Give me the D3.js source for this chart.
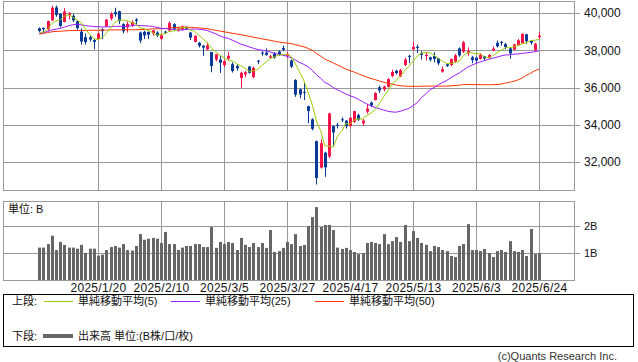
<!DOCTYPE html>
<html>
<head>
<meta charset="utf-8">
<script src="https://cdn.jsdelivr.net/npm/d3@7"></script>
<style>
  body { margin: 0; background: #fff; }
  svg { display: block; }
  text { font-family: "Liberation Sans", "Noto Sans CJK JP", sans-serif; }
</style>
</head>
<body>
<div id="chart"></div>
<script>
// trading days, 2024/12/24 .. 2025/6/24
const dates = [
  "2024/12/24","2024/12/25","2024/12/26","2024/12/27","2024/12/30",
  "2025/1/6","2025/1/7","2025/1/8","2025/1/9","2025/1/10","2025/1/14","2025/1/15","2025/1/16","2025/1/17",
  "2025/1/20","2025/1/21","2025/1/22","2025/1/23","2025/1/24","2025/1/27","2025/1/28","2025/1/29","2025/1/30","2025/1/31",
  "2025/2/3","2025/2/4","2025/2/5","2025/2/6","2025/2/7","2025/2/10","2025/2/12","2025/2/13","2025/2/14","2025/2/17",
  "2025/2/18","2025/2/19","2025/2/20","2025/2/21","2025/2/25","2025/2/26","2025/2/27","2025/2/28",
  "2025/3/3","2025/3/4","2025/3/5","2025/3/6","2025/3/7","2025/3/10","2025/3/11","2025/3/12","2025/3/13","2025/3/14",
  "2025/3/17","2025/3/18","2025/3/19","2025/3/21","2025/3/24","2025/3/25","2025/3/26","2025/3/27","2025/3/28","2025/3/31",
  "2025/4/1","2025/4/2","2025/4/3","2025/4/4","2025/4/7","2025/4/8","2025/4/9","2025/4/10","2025/4/11","2025/4/14",
  "2025/4/15","2025/4/16","2025/4/17","2025/4/18","2025/4/21","2025/4/22","2025/4/23","2025/4/24","2025/4/25","2025/4/28","2025/4/30",
  "2025/5/1","2025/5/2","2025/5/7","2025/5/8","2025/5/9","2025/5/12","2025/5/13","2025/5/14","2025/5/15","2025/5/16",
  "2025/5/19","2025/5/20","2025/5/21","2025/5/22","2025/5/23","2025/5/26","2025/5/27","2025/5/28","2025/5/29","2025/5/30",
  "2025/6/2","2025/6/3","2025/6/4","2025/6/5","2025/6/6","2025/6/9","2025/6/10","2025/6/11","2025/6/12","2025/6/13",
  "2025/6/16","2025/6/17","2025/6/18","2025/6/19","2025/6/20","2025/6/23","2025/6/24"
];

const openPrice = [
  39180,39200,39130,39600,40300, 39950,39520,39880,39850,39560,
  39000,38700,38700,38550,38620, 39120,39300,39700,40050,40100,
  39400,39230,39330,39650,38950, 38990,38990,38900,38950,38610,
  39000,39060,39400,39060,39100, 39230,38950,38450,38400,38250,
  38050,37900,37500,37500,37200, 37550,37250,37150,36510,36700,
  37130,36560,37440,37880,37870, 37600,37820,37935,38120,37700,
  37450,36400,35900,35760,35000, 34290,33120,31700,32500,32300,
  33930,34000,34290,34220,33930, 34160,34520,34080,34700,35190,
  35330,36010,35900,36040,36620, 36900,36600,37210,37700,38050,
  38190,37840,37690,37620,37690, 37570,36850,37250,37210,37390,
  38100,37920,37840,37620,37600, 37530,37680,37600,37980,38400,
  38450,38330,38100,38030,38280, 38370,38860,38500,38013,38700
];
const highPrice = [
  39220,39230,39590,40390,40400, 39990,40260,40050,39950,39580,
  39180,38900,38800,38600,38940, 39180,39680,40050,40280,40120,
  39450,39550,39600,39720,39000, 39050,39000,39100,39020,38900,
  39050,39550,39450,39250,39330, 39300,38990,38800,38450,38260,
  38420,37920,37800,37700,37500, 37900,37350,37250,36850,36900,
  37150,37130,37480,37950,38100, 37750,37900,38000,38250,37900,
  37500,36450,35950,36250,35020, 34350,33150,33220,32550,34650,
  33950,34100,34400,34250,34400, 34750,34600,34300,35120,35250,
  35750,36100,36100,36500,36950, 36950,37000,37600,37750,38460,
  38300,37950,37900,37650,37900, 37600,37120,37300,37550,37800,
  38150,38500,38150,37700,37650, 37850,37700,37800,38200,38520,
  38500,38400,38150,38350,38600, 38900,38880,38550,38400,38990
];
const lowPrice = [
  38970,38990,39040,39590,39800, 39220,39500,39650,39520,39100,
  38300,38300,38470,38050,38580, 38600,39250,39600,39800,39400,
  38900,38950,39250,39400,38380, 38600,38600,38780,38700,38550,
  38870,38980,39030,39000,39050, 39100,38550,38420,38150,37700,
  38000,36820,37400,36780,37100, 37450,36800,36900,35990,36550,
  36750,36500,37250,37700,37700, 37550,37550,37700,37950,37600,
  37050,35500,35420,35330,34080, 33700,30790,31650,31200,32200,
  32820,33800,34150,33800,33850, 34100,34200,33950,34600,34950,
  35300,35700,35800,36000,36550, 36700,36550,37150,37300,38000,
  37850,37500,37450,37400,37350, 37200,36800,37100,37150,37350,
  37650,37850,37700,37300,37300, 37500,37450,37550,37950,38150,
  38250,38050,37550,38000,38250, 38350,38350,38300,37920,38600
];
const closePrice = [
  39036,39130,39568,40281,39894, 39307,40083,39981,39605,39190,
  38474,38444,38572,38451,38902, 39027,39646,39958,39931,39565,
  39016,39414,39513,39572,38520, 38798,38831,39066,38787,38801,
  38963,39461,39149,39174,39270, 39164,38678,38776,38237,38142,
  38256,37155,37785,37331,37418, 37704,36887,37028,36793,36819,
  36790,37053,37396,37845,37751, 37677,37608,37780,38027,37799,
  37120,35617,35624,35725,34735, 33780,31136,33012,31714,34609,
  33585,33982,34267,33920,34377, 34730,34279,34220,34868,35039,
  35705,35839,36045,36452,36830, 36779,36928,37503,37644,38183,
  38128,37755,37753,37498,37529, 37298,36985,37160,37531,37724,
  37722,38432,37965,37470,37446, 37747,37554,37741,38088,38211,
  38421,38173,37834,38311,38536, 38885,38488,38403,38354,38790
];
// volume, billions of shares
const volume = [
  1.20,1.20,1.33,1.64,1.11, 1.41,1.30,1.20,1.20,1.16,
  1.30,1.00,1.16,1.16,0.90, 0.94,1.11,1.22,1.26,1.20,
  1.33,1.11,1.09,1.26,1.70, 1.49,1.53,1.56,1.53,1.37,
  1.78,1.33,1.33,1.11,1.20, 1.26,1.26,1.33,1.33,1.22,
  1.22,1.96,1.19,1.41,1.33, 1.41,1.37,1.11,1.56,1.30,
  1.22,1.37,1.22,1.37,1.19, 1.85,1.04,1.07,1.19,1.41,
  1.33,1.70,1.26,1.30,2.00, 2.33,2.70,1.96,2.04,2.04,
  1.85,1.20,1.15,1.19,1.11, 1.04,0.96,1.00,1.37,1.41,
  1.37,1.33,1.70,1.33,1.44, 1.59,1.41,2.04,1.44,1.81,
  1.56,1.37,1.30,1.07,1.26, 1.22,1.11,1.07,0.89,0.85,
  1.26,1.33,2.07,1.11,1.11, 1.07,1.15,1.00,0.85,1.07,
  1.11,1.04,1.44,1.07,1.04, 1.11,0.89,1.89,0.96,1.00
];
// simple moving averages as plotted
const ma5 = [
  38958,38968,39119,39435,39582, 39636,39827,39909,39774,39633,
  39467,39139,38857,38626,38569, 38679,38920,39197,39493,39625,
  39623,39577,39488,39416,39207, 39163,39047,38957,38800,38857,
  38890,39016,39032,39110,39203, 39244,39087,39012,38825,38599,
  38418,38113,37915,37734,37589, 37479,37425,37274,37166,37046,
  36863,36897,36970,37181,37367, 37544,37655,37732,37769,37778,
  37667,37269,36837,36377,35764, 35096,34200,33678,32875,32850,
  32811,33380,33631,34073,34026, 34255,34315,34305,34495,34627,
  34822,35134,35499,35816,36174, 36389,36607,36898,37137,37407,
  37677,37843,37893,37863,37733, 37567,37413,37294,37301,37340,
  37424,37714,37875,37863,37807, 37812,37636,37592,37715,37868,
  38003,38127,38145,38190,38255, 38348,38411,38525,38533,38584
];
const ma25 = [
  38917,38948,39010,39090,39134, 39169,39247,39312,39368,39395,
  39364,39331,39298,39272,39262, 39249,39259,39264,39282,39287,
  39273,39286,39314,39349,39323, 39314,39302,39282,39222,39178,
  39164,39140,39106,39089,39092, 39120,39129,39137,39129,39098,
  39068,38968,38881,38777,38691, 38639,38538,38438,38327,38259,
  38179,38108,38041,38003,37961, 37910,37835,37781,37735,37676,
  37594,37472,37346,37245,37109, 36930,36689,36498,36274,36161,
  35996,35880,35770,35655,35557, 35475,35364,35237,35118,35009,
  34930,34860,34790,34727,34688, 34675,34727,34802,34879,35017,
  35191,35456,35645,35877,35994, 36142,36262,36378,36522,36656,
  36776,36942,37092,37196,37292, 37374,37442,37510,37576,37631,
  37697,37746,37760,37786,37801, 37831,37860,37886,37920,37971
];
const ma50 = [
  38870,38900,38950,38990,39010, 39020,39040,39050,39060,39060,
  39060,39060,39070,39070,39070, 39080,39080,39090,39090,39090,
  39100,39100,39100,39102,39108, 39115,39125,39146,39156,39156,
  39167,39193,39209,39229,39244, 39242,39230,39218,39201,39180,
  39158,39114,39072,39030,38989, 38956,38912,38876,38838,38791,
  38746,38705,38661,38612,38570, 38537,38487,38443,38412,38384,
  38357,38300,38242,38187,38104, 37999,37829,37690,37525,37426,
  37318,37209,37104,36991,36908, 36827,36736,36639,36560,36485,
  36420,36348,36285,36231,36182, 36134,36099,36074,36062,36063,
  36060,36072,36072,36075,36077, 36069,36071,36074,36089,36107,
  36125,36153,36164,36157,36151, 36152,36151,36150,36151,36160,
  36186,36237,36281,36333,36409, 36511,36658,36766,36899,36982
];

const priceTicks = [32000, 34000, 36000, 38000, 40000];
const volumeTicks = [1, 2];
const tickDates = ["2025/1/20","2025/2/10","2025/3/5","2025/3/27","2025/4/17","2025/5/13","2025/6/3","2025/6/24"];

const width = 638, height = 362;
const left = 3, right = 574, tickEnd = 580;
const mainTop = 1, mainBottom = 190;
const volTop = 201, volBottom = 280;
const gridColor = "#999";
const upColor = "#f8144a", downColor = "#0b3b98";

const svg = d3.select("#chart").append("svg")
  .attr("width", width)
  .attr("height", height)
  .style("background", "#fff");

const x = d3.scaleLinear().domain([0, dates.length - 1]).range([39.2, 539]);
const y = d3.scaleLinear().domain([32000, 40000]).range([162, 13]);
const yVol = d3.scaleLinear().domain([0, 1]).range([volBottom, 253]);

const tickIndex = tickDates.map(d => dates.indexOf(d));
const px = v => Math.round(v) + 0.5;

// horizontal grid + right labels (price)
const priceAxis = svg.append("g")
  .attr("transform", "translate(" + left + ",0)")
  .call(d3.axisRight(y).tickValues(priceTicks).tickSize(tickEnd - left).tickPadding(4).tickFormat(d3.format(",")));
priceAxis.select(".domain").remove();
priceAxis.selectAll("line").attr("stroke", gridColor).attr("shape-rendering", "crispEdges");
priceAxis.selectAll("text").attr("font-size", 12).attr("fill", "#111");

// horizontal grid + right labels (volume)
const volAxis = svg.append("g")
  .attr("transform", "translate(" + left + ",0)")
  .call(d3.axisRight(yVol).tickValues(volumeTicks).tickSize(tickEnd - left).tickPadding(4).tickFormat(d => d + "B"));
volAxis.select(".domain").remove();
volAxis.selectAll("line").attr("stroke", gridColor).attr("shape-rendering", "crispEdges");
volAxis.selectAll("text").attr("font-size", 11).attr("fill", "#111");

// vertical grid
[[mainTop, mainBottom], [volTop, volBottom]].forEach(([t, b]) => {
  svg.append("g").selectAll("line")
    .data(tickIndex)
    .join("line")
    .attr("x1", d => px(x(d))).attr("x2", d => px(x(d)))
    .attr("y1", t).attr("y2", b)
    .attr("stroke", gridColor);
});

// panel frames
[[mainTop, mainBottom], [volTop, volBottom]].forEach(([t, b]) => {
  svg.append("rect")
    .attr("x", left + 0.5).attr("y", t + 0.5)
    .attr("width", right - left).attr("height", b - t)
    .attr("fill", "none").attr("stroke", gridColor);
});

// date labels
const dateAxis = svg.append("g")
  .attr("transform", "translate(0," + volBottom + ")")
  .call(d3.axisBottom(x).tickValues(tickIndex).tickSize(0).tickPadding(3).tickFormat(i => dates[i]));
dateAxis.select(".domain").remove();
dateAxis.selectAll("text").attr("font-size", 12).attr("fill", "#111").attr("letter-spacing", "0.3px");

svg.append("clipPath").attr("id", "plot-clip")
  .append("rect").attr("x", left + 1).attr("y", mainTop + 1)
  .attr("width", right - left - 1).attr("height", mainBottom - mainTop - 1);

const plot = svg.append("g").attr("clip-path", "url(#plot-clip)");

// candles
const idx = d3.range(dates.length);
const candle = plot.append("g").selectAll("g")
  .data(idx)
  .join("g")
  .attr("fill", i => closePrice[i] >= openPrice[i] ? upColor : downColor)
  .attr("stroke", i => closePrice[i] >= openPrice[i] ? upColor : downColor);

candle.append("line")
  .attr("x1", i => Math.round(x(i)) + 0.5)
  .attr("x2", i => Math.round(x(i)) + 0.5)
  .attr("y1", i => y(highPrice[i]))
  .attr("y2", i => y(lowPrice[i]))
  .attr("stroke-width", 1);

candle.append("rect")
  .attr("x", i => Math.round(x(i)) - 1)
  .attr("width", 3)
  .attr("y", i => y(Math.max(openPrice[i], closePrice[i])))
  .attr("height", i => Math.max(1, Math.abs(y(openPrice[i]) - y(closePrice[i]))))
  .attr("stroke", "none");

// moving averages
const maLine = d3.line().x((d, i) => x(i)).y(d => y(d));
[[ma50, "#ff3300"], [ma25, "#9a1cff"], [ma5, "#99cc00"]].forEach(([s, c]) => {
  plot.append("path")
    .datum(s)
    .attr("d", maLine)
    .attr("fill", "none")
    .attr("stroke", c)
    .attr("stroke-width", 1);
});

// volume bars
svg.append("g").selectAll("rect")
  .data(volume)
  .join("rect")
  .attr("x", (d, i) => Math.round(x(i)) - 1)
  .attr("width", 3)
  .attr("y", d => yVol(d))
  .attr("height", d => volBottom - yVol(d))
  .attr("fill", "#666");

svg.append("text")
  .attr("x", 8).attr("y", 213)
  .attr("font-size", 11)
  .attr("fill", "#111")
  .text("単位: B");

// legend
const legend = svg.append("g").attr("font-size", 11).attr("fill", "#111");
legend.append("rect")
  .attr("x", 3.5).attr("y", 294.5)
  .attr("width", 630).attr("height", 52)
  .attr("fill", "none").attr("stroke", "#000");

legend.append("text").attr("x", 12).attr("y", 305).text("上段:");
[["#99cc00", 44, "単純移動平均(5)"], ["#9a1cff", 171, "単純移動平均(25)"], ["#ff3300", 315, "単純移動平均(50)"]]
  .forEach(([c, lx, label]) => {
    legend.append("line").attr("x1", lx).attr("x2", lx + 29)
      .attr("y1", 301.5).attr("y2", 301.5).attr("stroke", c);
    legend.append("text").attr("x", lx + 34).attr("y", 305).text(label);
  });

legend.append("text").attr("x", 12).attr("y", 340).text("下段:");
legend.append("line").attr("x1", 43).attr("x2", 73)
  .attr("y1", 336).attr("y2", 336).attr("stroke", "#666").attr("stroke-width", 4);
legend.append("text").attr("x", 78).attr("y", 340).text("出来高 単位:(B株/口/枚)");

svg.append("text")
  .attr("x", 617).attr("y", 360)
  .attr("text-anchor", "end")
  .attr("font-size", 11)
  .attr("fill", "#333")
  .text("(c)Quants Research Inc.");
</script>
</body>
</html>
